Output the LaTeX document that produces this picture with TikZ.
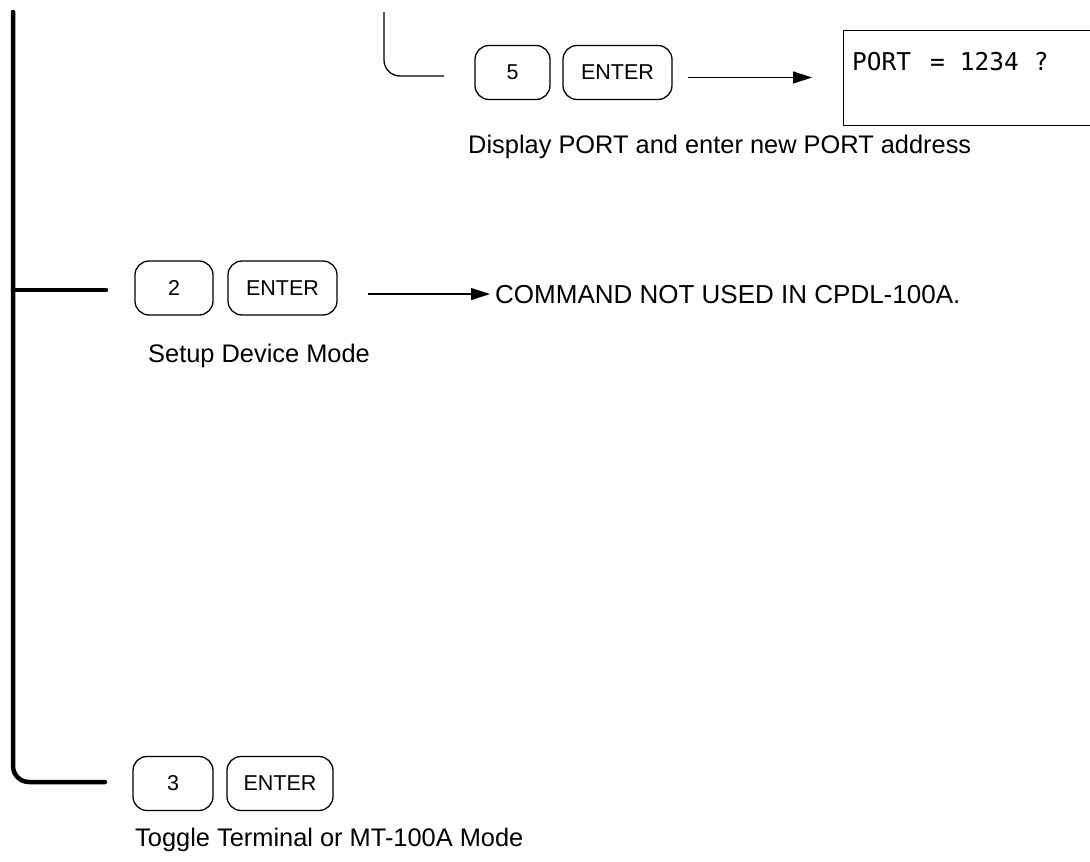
\documentclass[tikz,border=0pt]{standalone}
\usepackage{fontspec}
\setmainfont{Liberation Sans}
\newfontfamily\monofont{DejaVu Sans Mono}
\usetikzlibrary{arrows.meta}
\begin{document}
\begin{tikzpicture}[x=1pt,y=-1pt,
  keybox/.style={draw, line width=1.3pt, rounded corners=14pt, minimum height=54pt, inner sep=0pt, font=\fontsize{21.5}{25}\selectfont},
  thinline/.style={line width=1.3pt},
  thickline/.style={line width=4.5pt, line cap=round},
  arr/.style={thinline, -{Triangle[length=19pt,width=12pt]}},
  lbl/.style={anchor=base west, inner sep=0pt, font=\fontsize{25.4}{30}\selectfont}]
\useasboundingbox (0,0) rectangle (1090,862);
\fill[white] (0,0) rectangle (1090,862);

% ---- top branch (5 ENTER)
\coordinate (t0) at (384,12);
\coordinate (t1) at (444,76);
\draw[thinline, rounded corners=16pt] (t0) |- (t1);
\node[keybox, minimum width=75pt] (k5) at (512.5,72.5) {5};
\node[keybox, minimum width=109pt] (e5) at (617.5,72.5) {ENTER};
\node[draw, thinline, minimum width=260pt, minimum height=95pt, anchor=north west] (disp) at (843,30) {};
\node[anchor=base west, inner sep=0pt, font=\monofont\fontsize{24.5}{28}\selectfont] (disptxt) at (852,70) {PORT\hspace{19pt}=\hspace{15pt}1234\hspace{15pt}?};
\draw[arr, shorten <=15pt, shorten >=31pt] ([yshift=-5pt]e5.east) -- ([yshift=-5pt]e5.east -| disp.west);
\node[lbl] (l5) at (468,153) {Display PORT and enter new PORT address};

% ---- main thick line
\coordinate (m0) at (13,12);
\coordinate (m1) at (105,782);
\draw[thickline, rounded corners=16pt] (m0) |- (m1);
\coordinate (b0) at (13,290);
\coordinate (b1) at (106,290);
\draw[thickline] (b0) -- (b1);

% ---- 2 ENTER
\node[keybox, minimum width=78pt] (k2) at (174,288) {2};
\node[keybox, minimum width=109pt] (e2) at (282.5,288) {ENTER};
\node[lbl, font=\fontsize{26}{30}\selectfont] (cmd) at (495,303) {COMMAND NOT USED IN CPDL-100A.};
\draw[arr, shorten <=30pt, shorten >=5pt] (e2.east |- cmd.west) -- (cmd.west);
\node[lbl] (l2) at (148,362) {Setup Device Mode};

% ---- 3 ENTER
\node[keybox, minimum width=80pt] (k3) at (173,783.5) {3};
\node[keybox, minimum width=106pt] (e3) at (280,783.5) {ENTER};
\node[lbl] (l3) at (135,846) {Toggle Terminal or MT-100A Mode};
\end{tikzpicture}
\end{document}
